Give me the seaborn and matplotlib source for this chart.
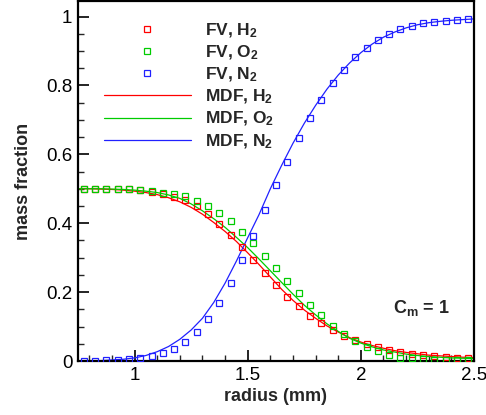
import numpy as np
import pandas as pd
import matplotlib
matplotlib.use("Agg")
import matplotlib.pyplot as plt
from matplotlib.lines import Line2D
from matplotlib.ticker import MultipleLocator
import seaborn as sns

# ---- finite-volume samples (radius in mm) ----
r_fv = [0.775, 0.825, 0.875, 0.925, 0.975, 1.025, 1.075, 1.125, 1.175, 1.225,
        1.275, 1.325, 1.375, 1.425, 1.475, 1.525, 1.575, 1.625, 1.675, 1.725,
        1.775, 1.825, 1.875, 1.925, 1.975, 2.025, 2.075, 2.125, 2.175, 2.225,
        2.275, 2.325, 2.375, 2.425, 2.475]
fv_h2 = [0.499, 0.499, 0.499, 0.499, 0.498, 0.495, 0.491, 0.485, 0.477, 0.466,
         0.450, 0.426, 0.399, 0.367, 0.331, 0.293, 0.256, 0.220, 0.187, 0.159,
         0.131, 0.109, 0.090, 0.074, 0.060, 0.049, 0.040, 0.032, 0.026, 0.021,
         0.017, 0.014, 0.012, 0.010, 0.008]
fv_o2 = [0.499, 0.499, 0.499, 0.499, 0.498, 0.496, 0.494, 0.488, 0.485, 0.478,
         0.465, 0.450, 0.431, 0.406, 0.375, 0.343, 0.306, 0.269, 0.233, 0.197,
         0.164, 0.133, 0.102, 0.077, 0.059, 0.040, 0.029, 0.017, 0.010, 0.008,
         0.005, 0.004, 0.003, 0.003, 0.003]
fv_n2 = [0.001, 0.001, 0.002, 0.003, 0.005, 0.008, 0.014, 0.022, 0.036, 0.056,
         0.083, 0.121, 0.169, 0.227, 0.292, 0.363, 0.437, 0.510, 0.579, 0.646,
         0.705, 0.759, 0.806, 0.846, 0.881, 0.909, 0.932, 0.950, 0.964, 0.973,
         0.980, 0.985, 0.988, 0.991, 0.993]

# ---- MDF solution ----
r_mdf = [0.75, 0.80, 0.85, 0.90, 0.95, 1.00, 1.05, 1.10, 1.15, 1.20,
         1.25, 1.30, 1.35, 1.40, 1.45, 1.50, 1.55, 1.60, 1.65, 1.70,
         1.75, 1.80, 1.85, 1.90, 1.95, 2.00, 2.05, 2.10, 2.15, 2.20,
         2.25, 2.30, 2.35, 2.40, 2.45, 2.50]
mdf_h2 = [0.500, 0.500, 0.499, 0.498, 0.496, 0.493, 0.489, 0.483, 0.474, 0.462,
          0.446, 0.426, 0.402, 0.376, 0.347, 0.314, 0.280, 0.244, 0.208, 0.176,
          0.148, 0.124, 0.102, 0.084, 0.068, 0.055, 0.045, 0.037, 0.030, 0.025,
          0.021, 0.017, 0.015, 0.013, 0.011, 0.010]
mdf_o2 = [0.500, 0.500, 0.500, 0.499, 0.498, 0.496, 0.493, 0.489, 0.482, 0.472,
          0.456, 0.436, 0.413, 0.388, 0.359, 0.329, 0.296, 0.262, 0.228, 0.194,
          0.162, 0.134, 0.108, 0.086, 0.066, 0.052, 0.041, 0.032, 0.026, 0.020,
          0.016, 0.013, 0.011, 0.009, 0.008, 0.007]
mdf_n2 = [0.000, 0.001, 0.001, 0.003, 0.005, 0.009, 0.016, 0.027, 0.042, 0.063,
          0.090, 0.124, 0.170, 0.226, 0.290, 0.358, 0.425, 0.500, 0.568, 0.632,
          0.690, 0.742, 0.789, 0.830, 0.865, 0.895, 0.920, 0.940, 0.955, 0.967,
          0.976, 0.982, 0.986, 0.989, 0.991, 0.993]

species = ["H_2", "O_2", "N_2"]
colors = ["#ff0000", "#00cc00", "#2020ff"]
fv_sets = [fv_h2, fv_o2, fv_n2]
mdf_sets = [mdf_h2, mdf_o2, mdf_n2]

sns.set_theme(style="ticks")
plt.rcParams["font.family"] = ["Liberation Sans", "DejaVu Sans"]
plt.rcParams["mathtext.fontset"] = "custom"
plt.rcParams["mathtext.rm"] = "Liberation Sans"
plt.rcParams["mathtext.bf"] = "Liberation Sans:bold"

fig = plt.figure(figsize=(4.86, 4.15), dpi=100)
ax = fig.add_axes([78 / 486, 1 - 361 / 415, 396 / 486, 360 / 415])

for name, c, mdf in zip(species, colors, mdf_sets):
    sns.lineplot(x=r_mdf, y=mdf, ax=ax, color=c, linewidth=0.9,
                 estimator=None, sort=False, zorder=2)
for name, c, fv in zip(species, colors, fv_sets):
    sns.lineplot(x=r_fv, y=fv, ax=ax, color=c, linestyle="none",
                 marker="s", markersize=4.2, markerfacecolor="none",
                 markeredgecolor=c, markeredgewidth=0.9,
                 estimator=None, sort=False, zorder=3)

ax.set_xlim(0.75, 2.5)
ax.set_ylim(0, 1.045)
ax.xaxis.set_minor_locator(MultipleLocator(0.1))
ax.yaxis.set_minor_locator(MultipleLocator(0.05))
ax.set_xticks([1, 1.5, 2, 2.5])
ax.set_xticklabels(["1", "1.5", "2", "2.5"])
ax.set_yticks([0, 0.2, 0.4, 0.6, 0.8, 1.0])
ax.set_yticklabels(["0", "0.2", "0.4", "0.6", "0.8", "1"])
ax.tick_params(which="major", direction="in", length=8, width=1.2,
               labelsize=13.5, pad=4, colors="black")
ax.tick_params(which="minor", direction="in", length=4.5, width=1.0)
ax.tick_params(top=False, right=False, which="both")
for s in ax.spines.values():
    s.set_linewidth(1.6)
    s.set_color("black")

ax.set_xlabel("radius (mm)", fontsize=13, fontweight="bold", labelpad=3)
ax.set_ylabel("mass fraction", fontsize=13, fontweight="bold", labelpad=10)

handles, labels = [], []
for name, c in zip(species, colors):
    handles.append(Line2D([], [], linestyle="none", marker="s", markersize=4.2,
                          markerfacecolor="none", markeredgecolor=c,
                          markeredgewidth=0.9))
    labels.append(r"FV, $\mathbf{%s}$" % name)
for name, c in zip(species, colors):
    handles.append(Line2D([], [], color=c, linewidth=0.9))
    labels.append(r"MDF, $\mathbf{%s}$" % name)
leg = ax.legend(handles, labels, loc="upper left",
                bbox_to_anchor=(0.0657, 0.944), frameon=False, borderpad=0,
                borderaxespad=0, handlelength=5.0, handletextpad=0.84,
                labelspacing=0.22,
                prop={"size": 12.5, "weight": "bold"})

ax.text(0.795, 0.148, r"C$_\mathregular{m}$ = 1", transform=ax.transAxes,
        fontsize=13, fontweight="bold", ha="left", va="center")

fig.savefig("out.png", dpi=100)
